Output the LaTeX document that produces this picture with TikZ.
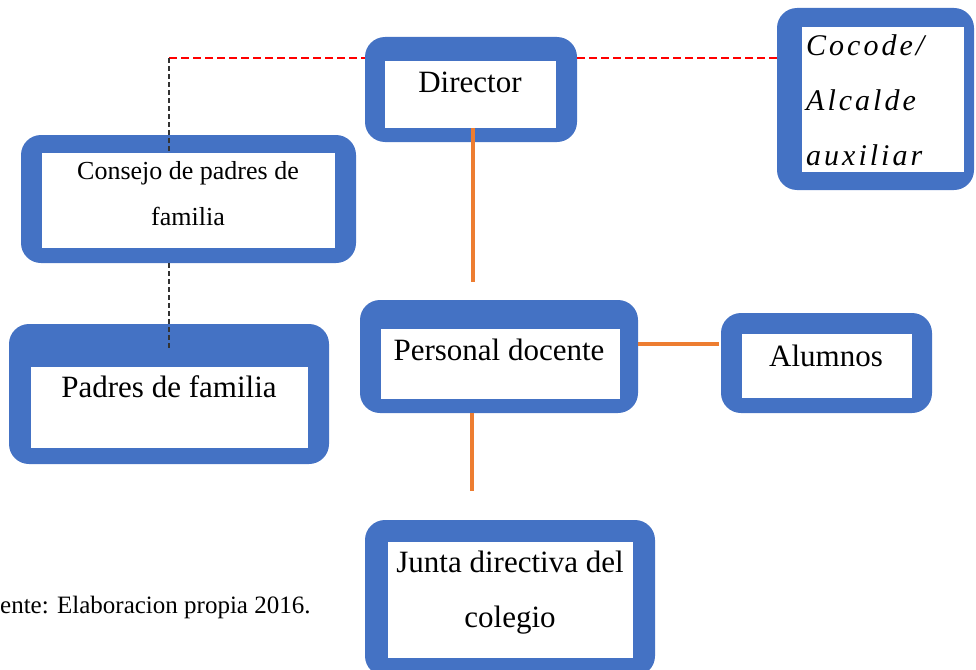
\documentclass[tikz,border=0pt]{standalone}
\usepackage{fontspec}
\setmainfont{Liberation Serif}
\newfontfamily\cocodefont[LetterSpace=10]{Liberation Serif Italic}
\usetikzlibrary{calc}
\definecolor{boxblue}{HTML}{4472C4}
\definecolor{lineorange}{HTML}{ED7D31}

\begin{document}
\begin{tikzpicture}[x=1pt,y=-1pt,
  outerbox/.style={fill=boxblue,rounded corners=20pt,inner sep=0pt,outer sep=0pt,anchor=north west},
  innerbox/.style={fill=white,inner sep=0pt,outer sep=0pt,anchor=north west},
  boxtext/.style={inner sep=0pt,anchor=base,align=center,font=\fontsize{31}{55}\selectfont},
  orangeline/.style={draw=lineorange,line width=3.5pt},
  reddash/.style={draw=red,line width=2pt,dash pattern=on 8pt off 4pt},
  blackdash/.style={draw=black!80,line width=1.5pt,dash pattern=on 5pt off 3pt}]

\useasboundingbox (0,0) rectangle (976,669);

% director
\node[outerbox,minimum width=212pt,minimum height=105pt] (dirOut) at (365,37) {};
\node[innerbox,minimum width=171pt,minimum height=67pt] (dirIn) at (385,61) {};
\node[boxtext] (dirText) at (470,92) {Director};

% cocode / alcalde auxiliar (base = last line)
\node[outerbox,minimum width=197pt,minimum height=182pt] (cocOut) at (777,8) {};
\node[innerbox,minimum width=162pt,minimum height=145pt] (cocIn) at (802,27) {};
\node[inner sep=0pt,anchor=base west,align=left,font=\cocodefont\fontsize{30}{55}\selectfont] (cocText) at (806,165) {Cocode/\\Alcalde\\auxiliar};

% consejo de padres
\node[outerbox,minimum width=335pt,minimum height=128pt] (conOut) at (21,135) {};
\node[innerbox,minimum width=293pt,minimum height=95pt] (conIn) at (42,153) {};
\node[boxtext,font=\fontsize{26}{46}\selectfont] (conText) at (188,225) {Consejo de padres de\\familia};

% padres de familia
\node[outerbox,minimum width=320pt,minimum height=140pt] (padOut) at (9,324) {};
\node[innerbox,minimum width=277pt,minimum height=81pt] (padIn) at (31,367) {};
\node[boxtext] (padText) at (169,397) {Padres de familia};

% personal docente
\node[outerbox,minimum width=278pt,minimum height=113pt] (perOut) at (360,300) {};
\node[innerbox,minimum width=239pt,minimum height=70pt] (perIn) at (381,329) {};
\node[boxtext] (perText) at (499,360) {Personal docente};

% alumnos
\node[outerbox,minimum width=211pt,minimum height=100pt] (aluOut) at (721,313) {};
\node[innerbox,minimum width=170pt,minimum height=64pt] (aluIn) at (742,334) {};
\node[boxtext] (aluText) at (826,366) {Alumnos};

% junta directiva
\node[outerbox,minimum width=290pt,minimum height=156pt] (junOut) at (365,520) {};
\node[innerbox,minimum width=245pt,minimum height=116pt] (junIn) at (388,542) {};
\node[boxtext] (junText) at (510,627) {Junta directiva del\\colegio};

% fuente
\node[inner sep=0pt,anchor=base west,font=\fontsize{25}{30}\selectfont] (fuente) at (0,613) {ente: Elaboracion propia 2016.};

% dashed links
\coordinate (bend) at (169,58);
\draw[reddash] (bend) -- (bend -| dirOut.west);
\draw[reddash] (bend -| dirOut.east) -- (bend -| cocOut.west);
\draw[blackdash] (bend) -- (bend |- conIn.north);
\draw[blackdash] (bend |- conOut.south) -- ($(bend |- padIn.north)+(0,-17)$);

% orange links
\coordinate (dirTail) at (473,282);
\coordinate (aluTail) at (719,344);
\coordinate (junTail) at (472,491);
\draw[orangeline] (dirTail |- dirIn.south) -- (dirTail);
\draw[orangeline] (perOut.east |- aluTail) -- (aluTail);
\draw[orangeline] (junTail |- perOut.south) -- (junTail);

\end{tikzpicture}
\end{document}
